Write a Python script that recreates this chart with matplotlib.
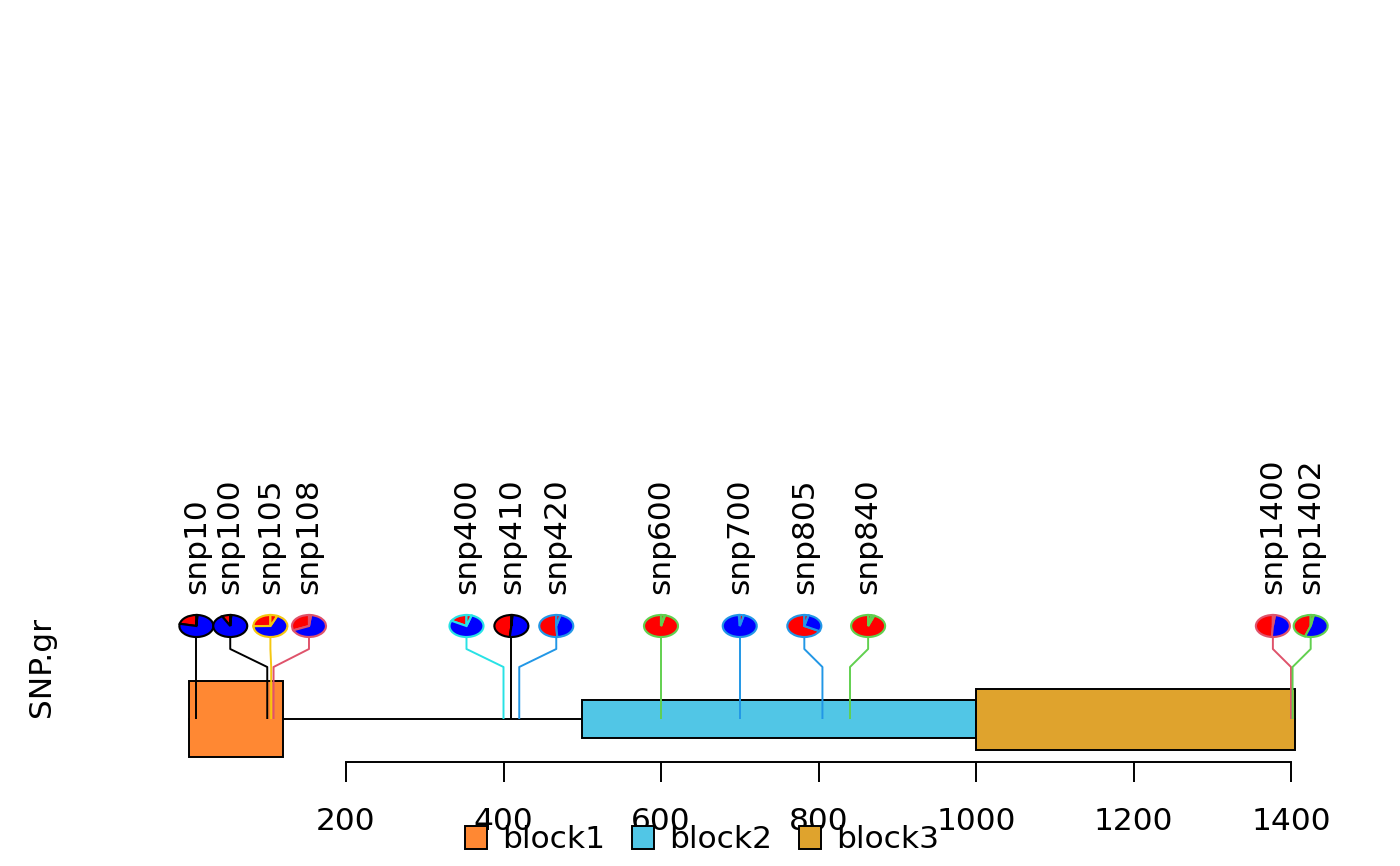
import matplotlib
matplotlib.use("Agg")
import matplotlib.pyplot as plt
from matplotlib.patches import Rectangle, Wedge, Patch
from matplotlib.transforms import Affine2D
import numpy as np

plt.rcParams['font.family'] = ['DejaVu Sans']

# ---------------- data ----------------
snp_names = ["snp10", "snp100", "snp105", "snp108", "snp400", "snp410", "snp420",
             "snp600", "snp700", "snp805", "snp840", "snp1400", "snp1402"]
snp_pos = [10, 100, 105, 108, 400, 410, 420, 600, 700, 805, 840, 1400, 1402]
label_pos = [10, 53, 104, 153, 353, 410, 467, 600, 700, 782, 863, 1377, 1425]
value1 = [22, 8, 27, 32, 18, 49, 53, 99, 1, 70, 97, 50, 46]
value2 = [78, 92, 73, 68, 82, 51, 47, 1, 99, 30, 3, 50, 54]
border_idx = [1, 1, 7, 2, 5, 1, 4, 3, 4, 4, 3, 2, 3]

block_names = ["block1", "block2", "block3"]
block_start = [0, 500, 1000]
block_end = [120, 1000, 1405]
block_fill = ["#FF8833", "#51C6E6", "#DFA32D"]

xticks = [200, 400, 600, 800, 1000, 1200, 1400]

# ---------------- style / layout ----------------
palette = ["black", "#DF536B", "#61D04F", "#2297E6", "#28E2E5", "#CD0BBC", "#F5C710", "#9E9E9E"]
slice_cols = ["red", "blue", "red"]
block_h_px = [76, 38, 61]
W, H = 1400, 866
px_per_unit = 0.7875
x0_px = 346  # pixel of value 200
def px2val(p):
    return 200 + (p - x0_px) / px_per_unit

y_base = 719
y_bend1 = 667
y_bend2 = 649
y_pie = 626
ry = 11
rx = 17 / px_per_unit
y_label = 594
y_axis = 762
fs = 22.5
lw = 1.4

fig = plt.figure(figsize=(W / 100, H / 100), dpi=100)
ax = fig.add_axes([0, 0, 1, 1])
ax.set_xlim(px2val(0), px2val(W))
ax.set_ylim(H, 0)

# backbone
ax.plot([min(block_start), max(block_end)], [y_base, y_base], color="black", lw=lw, zorder=1)

# blocks
for s, e, f, h in zip(block_start, block_end, block_fill, block_h_px):
    ax.add_patch(Rectangle((s, y_base - h / 2), e - s, h, facecolor=f,
                           edgecolor="black", lw=lw, zorder=2))

# stems + pies + labels
for name, sp, lp, v1, v2, b in zip(snp_names, snp_pos, label_pos, value1, value2, border_idx):
    col = palette[b - 1]
    ax.plot([sp, sp, lp, lp], [y_base, y_bend1, y_bend2, y_pie], color=col, lw=lw,
            zorder=3, solid_joinstyle="round", solid_capstyle="butt")
    vals = np.array([v1, v2, b], dtype=float)
    cum = np.concatenate([[0], np.cumsum(vals) / vals.sum()])
    tr = Affine2D().scale(rx, -ry).translate(lp, y_pie) + ax.transData
    for i in range(3):
        t1 = 90 + 360 * cum[i]
        t2 = 90 + 360 * cum[i + 1]
        ax.add_patch(Wedge((0, 0), 1, t1, t2, facecolor=slice_cols[i], edgecolor=col,
                           lw=lw * 1.1, transform=tr, zorder=4 + i * 0.01))
    ax.text(lp, y_label, name, rotation=90, ha="center", va="bottom", fontsize=fs, zorder=5)

# axis
for side in ["top", "left", "right"]:
    ax.spines[side].set_visible(False)
ax.spines["bottom"].set_position(("data", y_axis))
ax.spines["bottom"].set_bounds(xticks[0], xticks[-1])
ax.spines["bottom"].set_linewidth(lw)
ax.set_xticks(xticks)
ax.set_xticklabels([str(t) for t in xticks])
ax.tick_params(axis="x", direction="out", length=14.4, width=lw, labelsize=fs, pad=18)
ax.set_yticks([])
ax.patch.set_visible(False)

fig.text(42 / W, 1 - 667 / H, "SNP.gr", rotation=90, ha="center", va="center", fontsize=fs)

handles = [Patch(facecolor=f, edgecolor="black", lw=lw) for f in block_fill]
fig.legend(handles, block_names, loc="center", bbox_to_anchor=(702 / W, 1 - 840 / H),
           ncol=3, frameon=False, fontsize=fs, handlelength=0.7, handleheight=0.75,
           handletextpad=0.5, columnspacing=0.85, borderpad=0, borderaxespad=0)

fig.savefig("out.png", dpi=100)
